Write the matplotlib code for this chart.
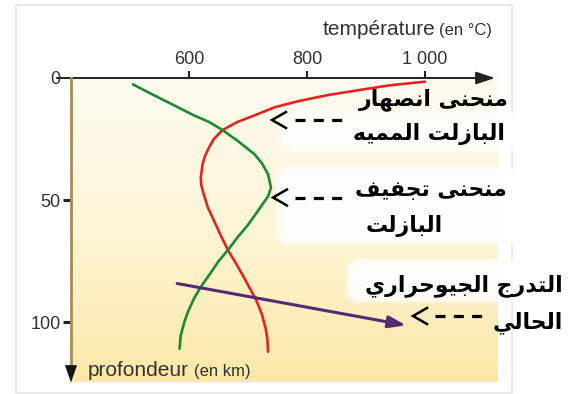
import numpy as np
import matplotlib
matplotlib.use("Agg")
import matplotlib.pyplot as plt
from matplotlib.lines import Line2D
from matplotlib.patches import Rectangle, FancyBboxPatch
from matplotlib.colors import LinearSegmentedColormap

plt.rcParams["lines.scale_dashes"] = False

# ---------------------------------------------------------------------------
# Data (temperature in degrees C, depth in km)
# ---------------------------------------------------------------------------
melt_depth = [1.5, 3, 4.8, 7, 9.5, 12, 15.3, 18, 21.3, 25, 28.4, 32, 35.3,
              40.7, 44, 47.6, 53, 58.7, 64, 70.4, 76, 82, 86, 90.9, 97,
              102.6, 107, 112]
melt_temp = [1000, 940, 892, 835, 785, 745, 711, 682, 657, 642, 634, 627, 623,
             620, 621, 625, 632, 643, 653, 666, 680, 694, 703, 714, 724,
             730, 733, 734]

dehyd_depth = [2.6, 6, 10, 15, 18, 21.3, 26, 31.2, 35, 39.4, 44.9, 48.4, 54,
               60.1, 65, 70.4, 75, 80, 85.5, 90, 95.8, 100, 105.3, 110.8]
dehyd_temp = [505, 532, 565, 606, 634, 657, 684, 711, 724, 734, 739, 734, 718,
              700, 683, 666, 650, 636, 620, 609, 598, 592, 586, 584]

geotherm_temp = [580, 968]
geotherm_depth = [84.1, 101.2]

temp_ticks = [600, 800, 1000]
temp_tick_labels = ["600", "800", "1 000"]
depth_ticks = [0, 50, 100]
depth_tick_labels = ["0", "50", "100"]

label_melt = ["منحنى انصهار", "البازلت المميه"]
label_dehyd = ["منحنى تجفيف", "البازلت"]
label_geo = ["التدرج الجيوحراري", "الحالي"]

# ---------------------------------------------------------------------------
# Minimal Arabic shaping (contextual presentation forms + visual order)
# forms: isolated, final, initial, medial
# ---------------------------------------------------------------------------
FORMS = {
    "ا": ("\uFE8D", "\uFE8E", None, None),
    "ب": ("\uFE8F", "\uFE90", "\uFE91", "\uFE92"),
    "ت": ("\uFE95", "\uFE96", "\uFE97", "\uFE98"),
    "ج": ("\uFE9D", "\uFE9E", "\uFE9F", "\uFEA0"),
    "ح": ("\uFEA1", "\uFEA2", "\uFEA3", "\uFEA4"),
    "د": ("\uFEA9", "\uFEAA", None, None),
    "ر": ("\uFEAD", "\uFEAE", None, None),
    "ز": ("\uFEAF", "\uFEB0", None, None),
    "ص": ("\uFEB9", "\uFEBA", "\uFEBB", "\uFEBC"),
    "ف": ("\uFED1", "\uFED2", "\uFED3", "\uFED4"),
    "ل": ("\uFEDD", "\uFEDE", "\uFEDF", "\uFEE0"),
    "م": ("\uFEE1", "\uFEE2", "\uFEE3", "\uFEE4"),
    "ن": ("\uFEE5", "\uFEE6", "\uFEE7", "\uFEE8"),
    "ه": ("\uFEE9", "\uFEEA", "\uFEEB", "\uFEEC"),
    "و": ("\uFEED", "\uFEEE", None, None),
    "ى": ("\uFEEF", "\uFEF0", None, None),
    "ي": ("\uFEF1", "\uFEF2", "\uFEF3", "\uFEF4"),
}


def dual(c):
    return c in FORMS and FORMS[c][2] is not None


def shape(text):
    out = []
    i = 0
    n = len(text)
    while i < n:
        c = text[i]
        if c not in FORMS:
            out.append(c)
            i += 1
            continue
        prev = text[i - 1] if i > 0 else None
        nxt = text[i + 1] if i + 1 < n else None
        jp = prev is not None and dual(prev)
        if c == "ل" and nxt == "ا":
            out.append("\uFEFC" if jp else "\uFEFB")
            i += 2
            continue
        jn = dual(c) and nxt in FORMS
        iso, fin, ini, med = FORMS[c]
        if jp and jn:
            out.append(med)
        elif jp:
            out.append(fin)
        elif jn:
            out.append(ini)
        else:
            out.append(iso)
        i += 1
    return "".join(reversed(out))


# ---------------------------------------------------------------------------
W, H = 577, 394
fig = plt.figure(figsize=(W / 100, H / 100), dpi=100)
fig.patch.set_facecolor("white")


def fx(x):
    return x / W


def fy(y):
    return 1 - y / H


ax_l, ax_r, ax_t, ax_b = 71, 498, 78, 382
ax = fig.add_axes([fx(ax_l), fy(ax_b), (ax_r - ax_l) / W, (ax_b - ax_t) / H])
xmin, xmax = 400, 1123.8
ymax = 124.4
ax.set_xlim(xmin, xmax)
ax.set_ylim(ymax, 0)
for s in ax.spines.values():
    s.set_visible(False)

# cream-to-yellow background
cmap = LinearSegmentedColormap.from_list("bg", ["#fefcf1", "#fdf5d6", "#fbe8a8"])
grad = np.linspace(0, 1, 256).reshape(-1, 1)
ax.imshow(grad, cmap=cmap, extent=(xmin, xmax, ymax, 0), aspect="auto",
          zorder=0, interpolation="bicubic")

# washed-out (soft-edged) areas behind the labels
for (x0, y0, x1, y1) in [(280, 110, 520, 152), (276, 166, 520, 246),
                         (346, 258, 520, 303)]:
    for k, inset in enumerate([0, 2, 4, 6]):
        a0, b0, a1, b1 = x0 + inset, y0 + inset, x1, y1 - inset
        fig.add_artist(FancyBboxPatch(
            (fx(a0), fy(b1)), (a1 - a0) / W, (b1 - b0) / H,
            boxstyle="round,pad=0,rounding_size=0.025",
            transform=fig.transFigure, fc="white", ec="none",
            alpha=0.45, zorder=1))

# curves
ax.plot(melt_temp, melt_depth, color="#e3231f", lw=1.9, zorder=3,
        solid_capstyle="round", solid_joinstyle="round")
ax.plot(dehyd_temp, dehyd_depth, color="#1d8a2f", lw=1.9, zorder=3,
        solid_capstyle="round", solid_joinstyle="round")
ax.annotate("", xy=(geotherm_temp[1], geotherm_depth[1]),
            xytext=(geotherm_temp[0], geotherm_depth[0]),
            arrowprops=dict(arrowstyle="-|>,head_length=0.7,head_width=0.24",
                            color="#552a72", lw=2.2,
                            mutation_scale=15, shrinkA=0, shrinkB=0),
            zorder=4)

# axes lines
ax.annotate("", xy=(1118.7, 0), xytext=(376, 0), xycoords="data",
            arrowprops=dict(arrowstyle="-|>,head_length=0.6,head_width=0.2",
                            color="#222222", lw=1.4,
                            mutation_scale=19, shrinkA=0, shrinkB=0),
            annotation_clip=False, zorder=5)
ax.plot([xmin, xmin], [0, 118], color="#a58d55", lw=2.0, zorder=5,
        clip_on=False)
ax.annotate("", xy=(xmin, 124.6), xytext=(xmin, 118),
            arrowprops=dict(arrowstyle="-|>,head_length=0.77,head_width=0.27",
                            color="#151515", lw=0.1,
                            mutation_scale=16, shrinkA=0, shrinkB=0),
            annotation_clip=False, zorder=6)

# ticks
tick_font = dict(family="Liberation Sans", size=13)
ax.xaxis.set_ticks_position("top")
ax.set_xticks(temp_ticks, labels=temp_tick_labels, **tick_font)
ax.tick_params(axis="x", direction="out", length=5, width=1.5,
               color="#222222", labelcolor="#333333", pad=2)
ax.set_yticks(depth_ticks, labels=depth_tick_labels, **tick_font)
ax.tick_params(axis="y", direction="out", length=6, width=2.2,
               color="#222222", labelcolor="#333333", pad=1.5)
ax.yaxis.get_major_ticks()[0].tick1line.set_visible(False)

# axis titles
renderer = fig.canvas.get_renderer()
lab = dict(family="Liberation Sans", color="#333333")
t_unit = fig.text(fx(492), fy(35), "(en °C)", ha="right", va="baseline",
                  size=12, **lab)
bb = t_unit.get_window_extent(renderer)
fig.text(bb.x0 / W - 4 / W, fy(35), "température", ha="right",
         va="baseline", size=15, **lab)
t_depth = fig.text(fx(88), fy(376), "profondeur", ha="left", va="baseline",
                   size=15, **lab)
bb = t_depth.get_window_extent(renderer)
fig.text(bb.x1 / W + 5 / W, fy(376), "(en km)", ha="left", va="baseline",
         size=12, **lab)

# Arabic labels
ar = dict(family=["DejaVu Sans"], weight="bold", color="black", size=15.8,
          va="center", zorder=7)
fig.text(fx(509), fy(100), shape(label_melt[0]), ha="right", **ar)
fig.text(fx(505), fy(134), shape(label_melt[1]), ha="right", **ar)
fig.text(fx(507), fy(190), shape(label_dehyd[0]), ha="right", **ar)
fig.text(fx(366), fy(226), shape(label_dehyd[1]), ha="left", **ar)
fig.text(fx(563), fy(286), shape(label_geo[0]), ha="right", **ar)
fig.text(fx(563), fy(323), shape(label_geo[1]), ha="right", **ar)


# dashed pointers
def pointer(tip_x, y, dash_x0, dash_x1, arm=14, half=8):
    fig.add_artist(Line2D([fx(tip_x + arm), fx(tip_x), fx(tip_x + arm)],
                          [fy(y - half), fy(y), fy(y + half)],
                          transform=fig.transFigure, color="black", lw=1.8,
                          solid_joinstyle="miter", zorder=8))
    fig.add_artist(Line2D([fx(dash_x0), fx(dash_x1)], [fy(y), fy(y)],
                          transform=fig.transFigure, color="black", lw=2.3,
                          linestyle=(0, (7.2, 6.0)), dash_capstyle="butt",
                          zorder=8))


pointer(272, 120, 295, 342)
pointer(273, 197.5, 295, 342)
pointer(413, 316, 435, 482)

# outer frame
fig.add_artist(Rectangle((fx(16), fy(393)), (512 - 16) / W, (393 - 5) / H,
                         transform=fig.transFigure, fill=False,
                         ec="#e6e6e6", lw=1.2, zorder=0))

fig.savefig("out.png", dpi=100)
